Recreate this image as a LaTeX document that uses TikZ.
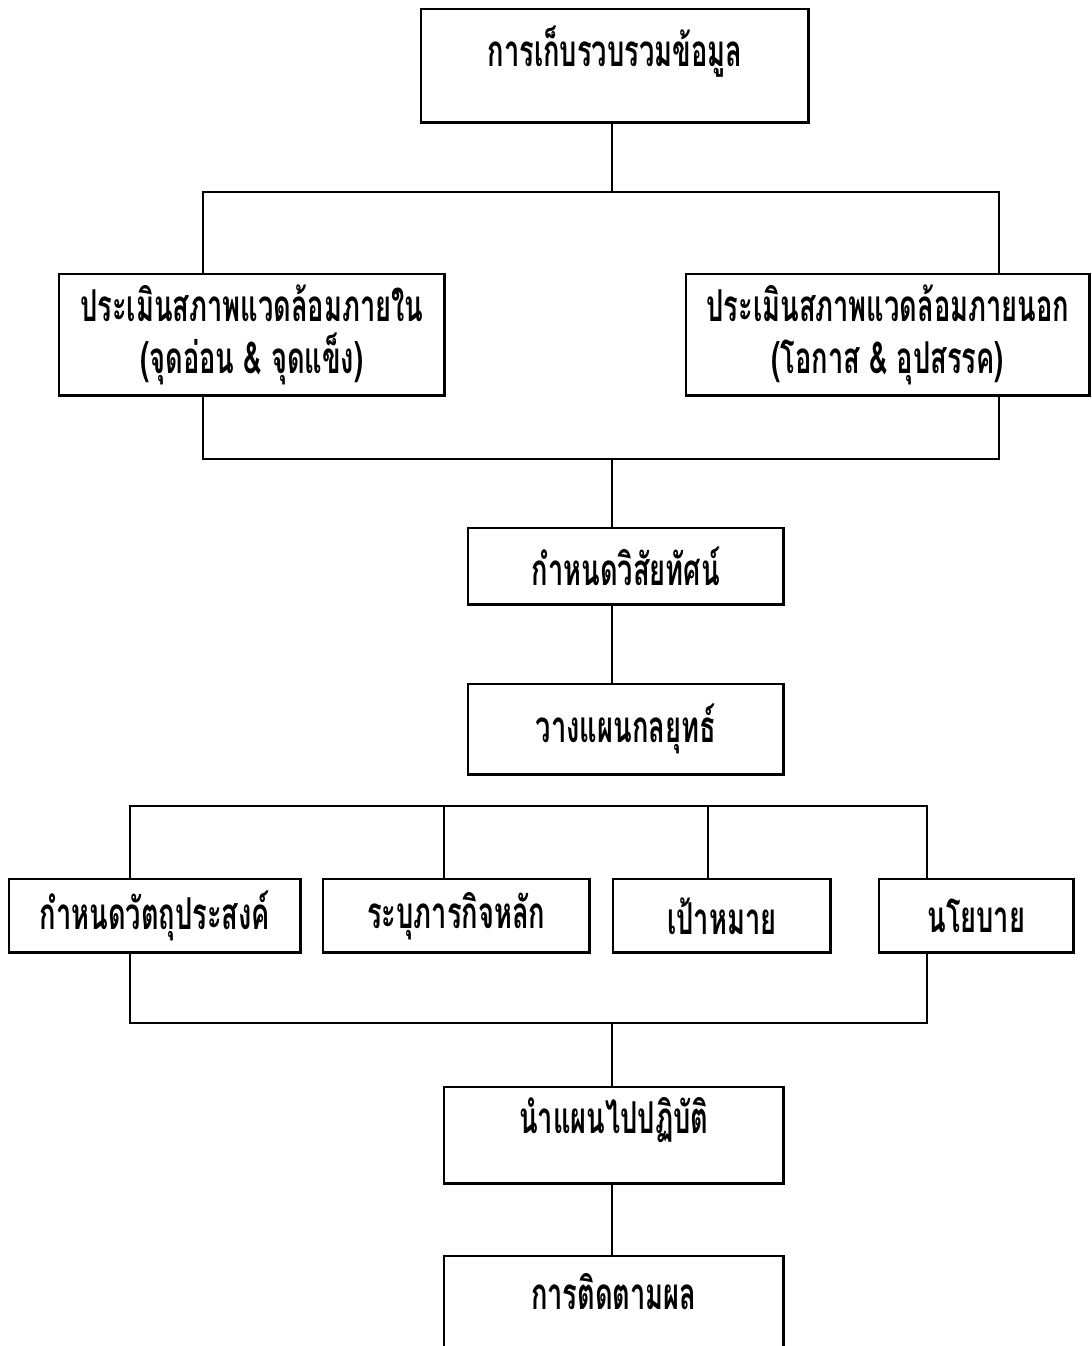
\documentclass[tikz,border=0pt]{standalone}
\usepackage{fontspec}
\newfontfamily\thaifont[Script=Thai,FakeStretch=0.62]{Loma}
\usetikzlibrary{positioning}

\begin{document}
\begin{tikzpicture}[x=0.01cm, y=-0.01cm, line width=0.7pt,
  font=\thaifont\bfseries\fontsize{12.5}{15}\selectfont,
  every node/.style={draw,inner sep=0pt,align=center,anchor=north west},
  stepbox/.style 2 args={minimum width=#1,minimum height=#2}]
\useasboundingbox (0,0) rectangle (1091,1346);
\node[minimum width=3.87cm,text height=0.57cm,text depth=0.56cm] (collect) at (420,8) {การเก็บรวบรวมข้อมูล};
\node[stepbox={3.85cm}{1.21cm}] (inner) at (58,273) {ประเมินสภาพแวดล้อมภายใน\\(จุดอ่อน \& จุดแข็ง)};
\node[stepbox={4.03cm}{1.21cm}] (outer) at (685,273) {ประเมินสภาพแวดล้อมภายนอก\\(โอกาส \& อุปสรรค)};
\node[stepbox={3.15cm}{0.76cm}] (vision) at (467,527) {กำหนดวิสัยทัศน์};
\node[stepbox={3.15cm}{0.90cm}] (strategy) at (467,683) {วางแผนกลยุทธ์};
\node[stepbox={2.91cm}{0.73cm}] (objective) at (8,878) {กำหนดวัตถุประสงค์};
\node[stepbox={2.66cm}{0.73cm}] (mission) at (322,878) {ระบุภารกิจหลัก};
\node[stepbox={2.17cm}{0.73cm}] (target) at (612,878) {เป้าหมาย};
\node[stepbox={1.94cm}{0.73cm}] (policy) at (878,878) {นโยบาย};
\node[minimum width=3.39cm,text height=0.46cm,text depth=0.50cm] (implement) at (443,1086) {นำแผนไปปฏิบัติ};
\node[minimum width=3.39cm,text height=0.53cm,text depth=1.0cm] (monitor) at (443,1255) {การติดตามผล};

% bus lines
\coordinate (spine) at (612,0);
\coordinate (splitA) at (203,192);
\coordinate (splitB) at (999,192);
\coordinate (joinA) at (203,459);
\coordinate (joinB) at (999,459);
\coordinate (goalA) at (130,806);
\coordinate (goalB) at (444,806);
\coordinate (goalC) at (708,806);
\coordinate (goalD) at (927,806);
\coordinate (endA) at (130,1023);
\coordinate (endB) at (927,1023);

\draw (collect.south -| spine) -- (spine |- splitA);
\draw (inner.north -| splitA) -- (splitA) -- (splitB) -- (outer.north -| splitB);
\draw (inner.south -| joinA) -- (joinA) -- (joinB) -- (outer.south -| joinB);
\draw (spine |- joinA) -- (vision.north -| spine);
\draw (vision.south -| spine) -- (strategy.north -| spine);
\draw (objective.north -| goalA) -- (goalA) -- (goalD) -- (policy.north -| goalD);
\draw (goalB) -- (mission.north -| goalB);
\draw (goalC) -- (target.north -| goalC);
\draw (objective.south -| endA) -- (endA) -- (endB) -- (policy.south -| endB);
\draw (spine |- endA) -- (implement.north -| spine);
\draw (implement.south -| spine) -- (monitor.north -| spine);
\end{tikzpicture}
\end{document}
